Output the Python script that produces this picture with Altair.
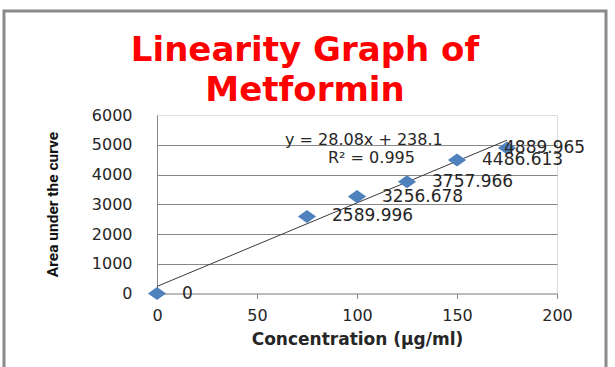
import altair as alt
import pandas as pd

# Calibration data: metformin concentration vs. peak area
concentration = [0, 75, 100, 125, 150, 175]
area = [0, 2589.996, 3256.678, 3757.966, 4486.613, 4889.965]

# Least-squares trendline as reported
slope = 28.08
intercept = 238.1
r_squared = 0.995
trend_x = [0, 175]

y_ticks = [0, 1000, 2000, 3000, 4000, 5000, 6000]
x_ticks = [0, 50, 100, 150, 200]

title_lines = ["Linearity Graph of", "Metformin"]

points = pd.DataFrame({"conc": concentration, "area": area})
trend = pd.DataFrame({"conc": trend_x, "area": [slope * x + intercept for x in trend_x]})

GRAY = "#888888"
TEXT = "#262626"
NUM_FONT = "DejaVu Sans"

x_enc = alt.X(
    "conc:Q",
    scale=alt.Scale(domain=[0, 200], nice=False),
    axis=alt.Axis(
        values=x_ticks,
        format="d",
        title="Concentration (µg/ml)",
        titleFont="DejaVu Sans",
        titleFontWeight="bold",
        titleFontSize=17,
        titleColor=TEXT,
        titleY=46,
        titleBaseline="middle",
        labelFont=NUM_FONT,
        labelFontSize=16,
        labelColor=TEXT,
        labelPadding=9,
        labelFlush=False,
        labelOverlap=False,
        tickSize=5,
        tickColor=GRAY,
        domainColor=GRAY,
        grid=False,
    ),
)
y_enc = alt.Y(
    "area:Q",
    scale=alt.Scale(domain=[0, 6000], nice=False),
    axis=alt.Axis(
        values=y_ticks,
        format="d",
        title="Area under the curve",
        titleFont="Roboto",
        titleFontWeight="bold",
        titleFontSize=15.5,
        titleColor="#111111",
        titleX=-105,
        titleY=89,
        titleAngle=-90,
        titleAlign="center",
        titleBaseline="middle",
        labelFont=NUM_FONT,
        labelFontSize=16,
        labelColor=TEXT,
        labelPadding=25,
        labelFlush=False,
        labelOverlap=False,
        tickSize=0,
        domainColor=GRAY,
        gridColor=GRAY,
        gridOpacity=alt.condition("datum.value >= 6000 || datum.value <= 0", alt.value(0), alt.value(1)),
    ),
)

base = alt.Chart(points).encode(x=x_enc, y=y_enc)

trendline = alt.Chart(trend).mark_line(color="#3a3a3a", strokeWidth=1).encode(
    x=x_enc, y=y_enc
)

diamond = "M-1,0L0,-0.72L1,0L0,0.72Z"
markers = base.mark_point(
    shape=diamond, filled=True, size=330, color="#4F81BD", opacity=1
)

labels = base.mark_text(
    align="left", baseline="middle", dx=25, font=NUM_FONT, fontSize=17, color=TEXT
).encode(text=alt.Text("area:Q")).transform_filter("datum.conc < 175")

last_label = base.mark_text(
    align="left", baseline="middle", dx=-3, font=NUM_FONT, fontSize=17, color=TEXT
).encode(text=alt.Text("area:Q")).transform_filter("datum.conc >= 175")

eq_text = f"y = {slope}x + {intercept}"
r2_text = f"R² = {r_squared}"
equation = alt.Chart(pd.DataFrame({"t": [eq_text]})).mark_text(
    align="left", baseline="middle", font=NUM_FONT, fontSize=16, color=TEXT
).encode(x=alt.value(128), y=alt.value(25), text="t:N")
r2 = alt.Chart(pd.DataFrame({"t": [r2_text]})).mark_text(
    align="left", baseline="middle", font=NUM_FONT, fontSize=16, color=TEXT
).encode(x=alt.value(171), y=alt.value(43), text="t:N")

# Chart heading, centred over the whole figure
heading = alt.Chart(pd.DataFrame({"t": [title_lines]})).mark_text(
    align="center", baseline="middle", font="DejaVu Sans", fontWeight="bold",
    fontSize=34, lineHeight=40, color="#FF0000"
).encode(x=alt.value(148), y=alt.value(-64), text="t")

# Outer frame around the whole figure
frame = alt.Chart(pd.DataFrame({"f": [0]})).mark_rect(
    fill=None, stroke="#8a8a8a", strokeWidth=3
).encode(x=alt.value(-153), x2=alt.value(449), y=alt.value(-104), y2=alt.value(270))

chart = alt.layer(
    trendline, markers, labels, last_label, equation, r2, heading, frame
).properties(
    width=400,
    height=178.5,
    padding={"left": 157, "top": 115, "right": 58, "bottom": 73.5},
    autosize=alt.AutoSizeParams(type="none"),
).configure_view(stroke=None).configure(background="white")

chart.save("out.html", embed_options={"renderer": "svg", "actions": False})
